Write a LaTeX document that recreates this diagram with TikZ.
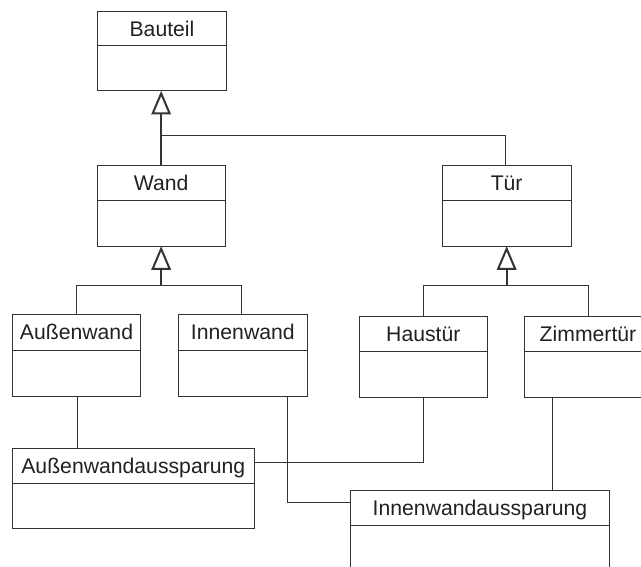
\documentclass[tikz,border=0pt]{standalone}
\usepackage{fontspec}
\setmainfont{Liberation Sans}
\usetikzlibrary{calc}

\definecolor{linecol}{gray}{0.2}
\definecolor{textcol}{gray}{0.13}

\tikzset{
  classbox/.style={draw=linecol, line width=0.9pt, rectangle, inner sep=0pt,
                   outer sep=0pt, anchor=north west},
  classlabel/.style={font=\fontsize{21.2}{24}\selectfont, text=textcol,
                     inner sep=0pt, text height=15.2pt, text depth=0pt},
  assoc/.style={draw=linecol, line width=0.9pt},
  genline/.style={draw=linecol, line width=2pt},
  gentri/.style={draw=linecol, line width=2pt, fill=white, line join=miter},
}

% class box: name, x, y (top left), width, height, header height, title
\newcommand\umlclass[7]{%
  \node[classbox, minimum width=#4pt, minimum height=#5pt] (#1) at (#2,#3) {};
  \draw[assoc] ([yshift=-#6pt]#1.north west) -- ([yshift=-#6pt]#1.north east);
  \node[classlabel] (#1-name) at ($(#1.north west)!0.5!([yshift=-#6pt]#1.north east)$) {#7};
}

% hollow generalization triangle: tip just below the bottom of #1, at x of #2
\newcommand\gentriangle[2]{%
  \draw[gentri] ([yshift=-2.8pt]#2 |- #1.south) -- ++(-8.5,20) -- ++(17,0) -- cycle;
}

\begin{document}
\begin{tikzpicture}[x=1pt, y=-1pt]
  \clip (0,0) rectangle (641,567);
  \fill[white] (0,0) rectangle (641,567);

  % classes
  \umlclass{bauteil}{97.3}{11.7}{129.4}{79}{34}{Bauteil}
  \umlclass{wand}{97}{165}{128.3}{81}{35}{Wand}
  \umlclass{tuer}{442.3}{165}{128.7}{81}{35}{Tür}
  \umlclass{aussenwand}{12.3}{314.3}{128.4}{81.7}{35.7}{Außenwand}
  \umlclass{innenwand}{178.7}{314.3}{128.3}{81.7}{35.7}{Innenwand}
  \umlclass{haustuer}{359}{316.3}{128.7}{80.7}{35.4}{Haustür}
  \umlclass{zimmertuer}{524}{316.3}{128}{80.7}{35.4}{Zimmertür}
  \umlclass{awa}{12.3}{448}{242}{80.3}{35.3}{Außenwandaussparung}
  \umlclass{iwa}{350.7}{490}{258.6}{81}{35.3}{Innenwandaussparung}

  % generalization: Wand and Tür specialise Bauteil
  \coordinate (j1) at ([yshift=-45pt]wand.north |- bauteil.south);
  \draw[genline] ([yshift=-22.8pt]wand.north |- bauteil.south) -- (wand.north);
  \draw[assoc] (j1) -| ([xshift=-0.8pt]tuer.north);
  \gentriangle{bauteil}{wand.north}

  % generalization: Außenwand and Innenwand specialise Wand
  \coordinate (j2) at ([yshift=-39.3pt]wand.south);
  \draw[genline] ([yshift=-22.8pt]wand.south) -- (j2);
  \draw[assoc] (aussenwand.north) |- (j2) -| ([xshift=-1.5pt]innenwand.north);
  \gentriangle{wand}{wand.south}

  % generalization: Haustür and Zimmertür specialise Tür
  \coordinate (j3) at ([yshift=-39.3pt]tuer.south);
  \draw[genline] ([yshift=-22.8pt]tuer.south) -- (j3);
  \draw[assoc] (haustuer.north) |- (j3) -| (zimmertuer.north);
  \gentriangle{tuer}{tuer.south}

  % associations
  \draw[assoc] ([xshift=0.5pt]aussenwand.south) -- ([xshift=0.5pt]aussenwand.south |- awa.north);
  \draw[assoc] (haustuer.south) |- ([yshift=-14.7pt]awa.north east);
  \draw[assoc] ([xshift=-19.7pt]innenwand.south east) |- ([yshift=-12.7pt]iwa.north west);
  \draw[assoc] ([xshift=-35.7pt]zimmertuer.south) -- ([xshift=-35.7pt]zimmertuer.south |- iwa.north);
\end{tikzpicture}
\end{document}
